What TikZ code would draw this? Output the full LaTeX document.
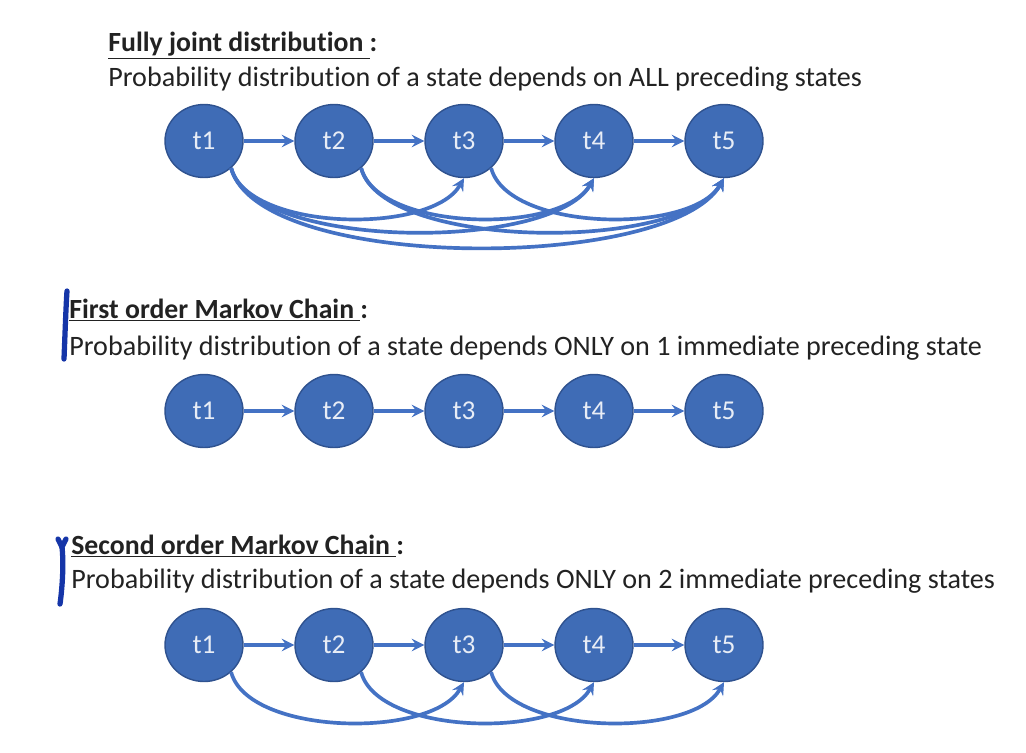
\documentclass[tikz,border=0pt]{standalone}
\usepackage{fontspec}
\setmainfont[Ligatures=NoCommon]{Carlito}
\usepackage{xcolor}
\usepackage{tikz}
\usetikzlibrary{shapes.geometric}

\definecolor{stateblue}{HTML}{3F6CB6}
\definecolor{stateedge}{HTML}{2F528F}
\definecolor{linkblue}{HTML}{4472C4}
\definecolor{inkgray}{HTML}{222222}
\definecolor{penblue}{HTML}{1535A8}

\begin{document}
\begin{tikzpicture}[x=0.02cm, y=0.02cm, >=stealth,
  state/.style={ellipse, draw=stateedge, line width=0.8pt, fill=stateblue,
    minimum width=1.56cm, minimum height=1.46cm, inner sep=0pt,
    text=white!88!stateblue, font=\fontsize{15.5}{18}\selectfont},
  link/.style={->, line width=2.1pt, linkblue},
  heading/.style={anchor=base west, inner sep=0pt, text=inkgray,
    font=\fontsize{15.8}{19}\selectfont\bfseries},
  desc/.style={anchor=base west, inner sep=0pt, text=inkgray,
    font=\fontsize{16}{19}\selectfont},
  pen/.style={penblue, line width=3pt, line cap=round}]
\useasboundingbox (0,0) rectangle (1026,-752);

%--- Panel A: Fully joint distribution ---
\node[heading] (jhead) at (108,-51) {\underline{Fully joint distribution }:};
\node[desc] (jdesc) at (108,-86) {Probability distribution of a state depends on ALL preceding states};
\node[state] (j1) at (204,-141) {t1};
\node[state] (j2) at (334,-141) {t2};
\node[state] (j3) at (464,-141) {t3};
\node[state] (j4) at (594,-141) {t4};
\node[state] (j5) at (724,-141) {t5};
% one step
\draw[link] (j1) -- (j2);
\draw[link] (j2) -- (j3);
\draw[link] (j3) -- (j4);
\draw[link] (j4) -- (j5);
% longer jumps
\draw[link] (j1.-45) to[out=-75, in=-120, looseness=0.72] (j3.-90);
\draw[link] (j1.-45) to[out=-75, in=-120, looseness=0.60] (j4.-90);
\draw[link] (j1.-45) to[out=-75, in=-120, looseness=0.56] (j5.-90);
\draw[link] (j2.-45) to[out=-75, in=-120, looseness=0.72] (j4.-90);
\draw[link] (j2.-45) to[out=-75, in=-120, looseness=0.60] (j5.-90);
\draw[link] (j3.-45) to[out=-75, in=-120, looseness=0.72] (j5.-90);

%--- Panel B: First order Markov chain ---
\draw[pen] (67,-291) .. controls (66,-305) and (65,-335) .. (64,-359);
\node[heading] (fhead) at (69,-318) {\underline{First order Markov Chain }:};
\node[desc] (fdesc) at (69,-355) {Probability distribution of a state depends ONLY on 1 immediate preceding state};
\node[state] (f1) at (204,-411) {t1};
\node[state] (f2) at (334,-411) {t2};
\node[state] (f3) at (464,-411) {t3};
\node[state] (f4) at (594,-411) {t4};
\node[state] (f5) at (724,-411) {t5};
\draw[link] (f1) -- (f2);
\draw[link] (f2) -- (f3);
\draw[link] (f3) -- (f4);
\draw[link] (f4) -- (f5);

%--- Panel C: Second order Markov chain ---
\draw[pen] (58,-539) -- (62,-547) -- (66,-539);
\draw[pen] (62,-547) .. controls (64,-565) and (62,-590) .. (60,-604);
\node[heading] (shead) at (71,-554) {\underline{Second order Markov Chain }:};
\node[desc] (sdesc) at (71,-588) {Probability distribution of a state depends ONLY on 2 immediate preceding states};
\node[state] (s1) at (204,-645) {t1};
\node[state] (s2) at (334,-645) {t2};
\node[state] (s3) at (464,-645) {t3};
\node[state] (s4) at (594,-645) {t4};
\node[state] (s5) at (724,-645) {t5};
\draw[link] (s1) -- (s2);
\draw[link] (s2) -- (s3);
\draw[link] (s3) -- (s4);
\draw[link] (s4) -- (s5);
% two steps back
\draw[link] (s1.-45) to[out=-75, in=-120, looseness=0.72] (s3.-90);
\draw[link] (s2.-45) to[out=-75, in=-120, looseness=0.72] (s4.-90);
\draw[link] (s3.-45) to[out=-75, in=-120, looseness=0.72] (s5.-90);
\end{tikzpicture}
\end{document}
